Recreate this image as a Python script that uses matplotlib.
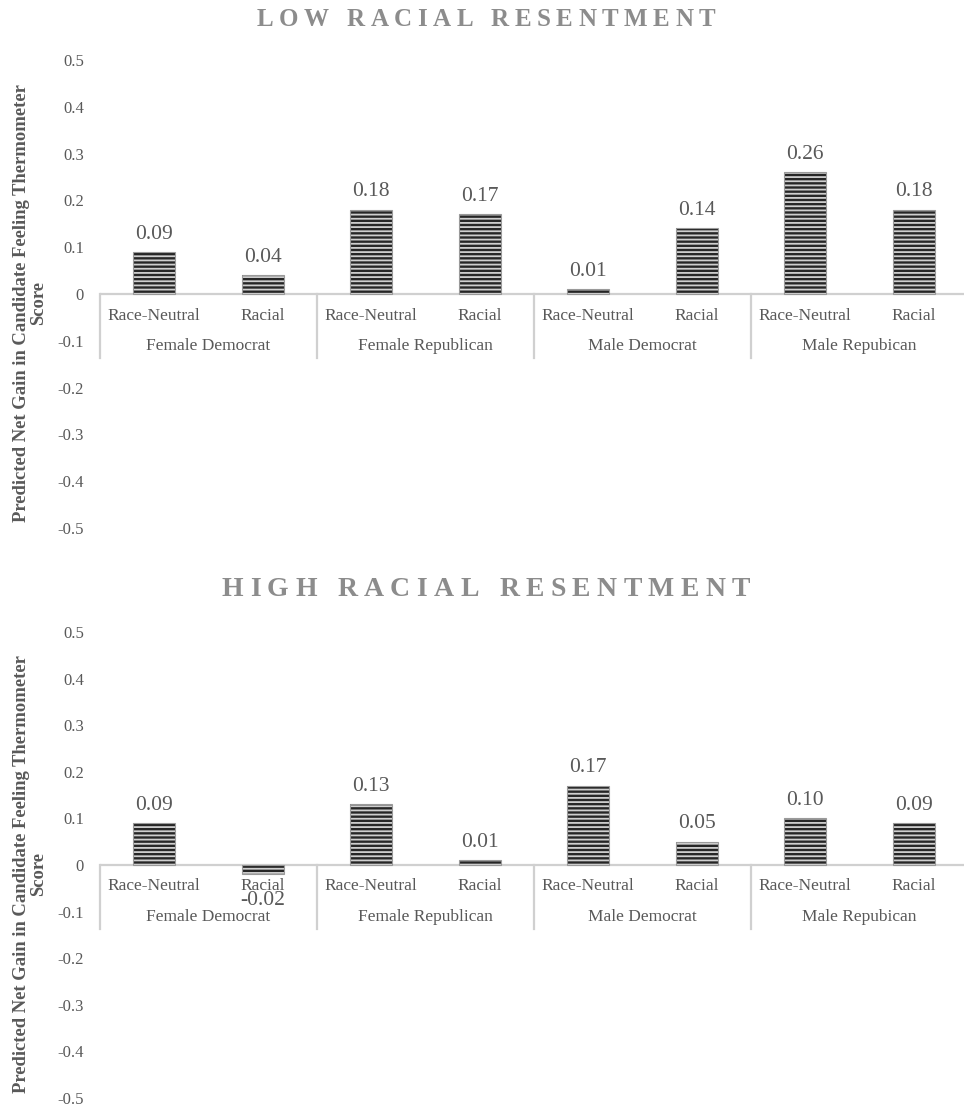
import matplotlib
matplotlib.use("Agg")
import matplotlib.pyplot as plt

# ---- data -------------------------------------------------------------
groups = ["Female Democrat", "Female Republican", "Male Democrat", "Male Repubican"]
conditions = ["Race-Neutral", "Racial"]
low_values = [0.09, 0.04, 0.18, 0.17, 0.01, 0.14, 0.26, 0.18]
high_values = [0.09, -0.02, 0.13, 0.01, 0.17, 0.05, 0.10, 0.09]
panel_titles = ["LOW RACIAL RESENTMENT", "HIGH RACIAL RESENTMENT"]
y_ticks = [0.5, 0.4, 0.3, 0.2, 0.1, 0, -0.1, -0.2, -0.3, -0.4, -0.5]
y_label = "Predicted Net Gain in Candidate Feeling Thermometer\nScore"

# ---- style ------------------------------------------------------------
SERIF = ["Liberation Serif", "DejaVu Serif"]
TEXT = "#595959"
TITLE = "#8c8c8c"
AXIS = "#d0d0d0"
plt.rcParams["font.family"] = SERIF
plt.rcParams["hatch.linewidth"] = 1.3

W, H = 964, 1106
fig = plt.figure(figsize=(W / 100, H / 100), dpi=100)


def px_rect(left, top, right, bottom):
    return [left / W, 1 - bottom / H, (right - left) / W, (bottom - top) / H]


def spaced_text(fig, cx, cy, s, size, gap, **kw):
    """Draw a string with extra tracking between characters, centred at (cx, cy) px."""
    r = fig.canvas.get_renderer()
    widths = []
    for ch in s:
        t = fig.text(0, 0, ch if ch != " " else "n", fontsize=size, **kw)
        w = t.get_window_extent(r).width
        if ch == " ":
            w *= 0.5
        widths.append(w)
        t.remove()
    total = sum(widths) + gap * (len(s) - 1)
    x = cx - total / 2
    for ch, w in zip(s, widths):
        if ch != " ":
            fig.text(x / W, 1 - cy / H, ch, fontsize=size, va="center", ha="left", **kw)
        x += w + gap


def panel(rect, values, title, title_y, title_size, title_gap):
    ax = fig.add_axes(rect)
    n = len(values)
    xs = list(range(n))
    ax.bar(xs, values, width=0.39, color="#262626", edgecolor="#cfcfcf",
           hatch="----", linewidth=0, zorder=3)
    ax.bar(xs, values, width=0.39, facecolor="none", edgecolor="#9a9a9a",
           linewidth=0.8, zorder=4)
    for x, v in zip(xs, values):
        above = v >= 0
        ax.annotate(f"{v:.2f}", (x, v), xytext=(0, 6 if above else -12),
                    textcoords="offset points", ha="center",
                    va="bottom" if above else "top",
                    fontsize=15.5, color=TEXT, zorder=6)

    ax.set_xlim(-0.5, n - 0.5)
    ax.set_ylim(-0.5, 0.5)
    ax.set_yticks(y_ticks)
    ax.set_yticklabels([f"{t:g}" for t in y_ticks])
    ax.tick_params(axis="y", length=0, pad=11.5, labelsize=12, labelcolor=TEXT)
    ax.set_xticks([])
    for sp in ax.spines.values():
        sp.set_visible(False)
    ax.axhline(0, color=AXIS, lw=1.6, zorder=2)

    # two-level category axis
    lab1_y, lab2_y, sep_y = -0.046, -0.112, -0.137
    for i, x in enumerate(xs):
        ax.text(x, lab1_y, conditions[i % 2], ha="center", va="center",
                fontsize=12.5, color=TEXT, zorder=5)
    for g, name in enumerate(groups):
        ax.text(2 * g + 0.5, lab2_y, name, ha="center", va="center",
                fontsize=12.5, color=TEXT)
    for b in range(len(groups) + 1):
        ax.plot([2 * b - 0.5, 2 * b - 0.5], [0, sep_y], color=AXIS, lw=1.6,
                clip_on=False, zorder=2)

    ax.set_ylabel(y_label, fontsize=13.4, fontweight="bold", color=TEXT,
                  linespacing=1.0)
    ax.yaxis.set_label_coords(-0.061, 0.48)

    spaced_text(fig, 486, title_y, title, title_size, title_gap,
                fontweight="bold", color=TITLE)
    return ax


panel(px_rect(100, 60, 968, 528), low_values, panel_titles[0], 19, 18, 5.5)
panel(px_rect(100, 632, 968, 1098), high_values, panel_titles[1], 590, 20, 6.4)

fig.savefig("out.png", dpi=100)
